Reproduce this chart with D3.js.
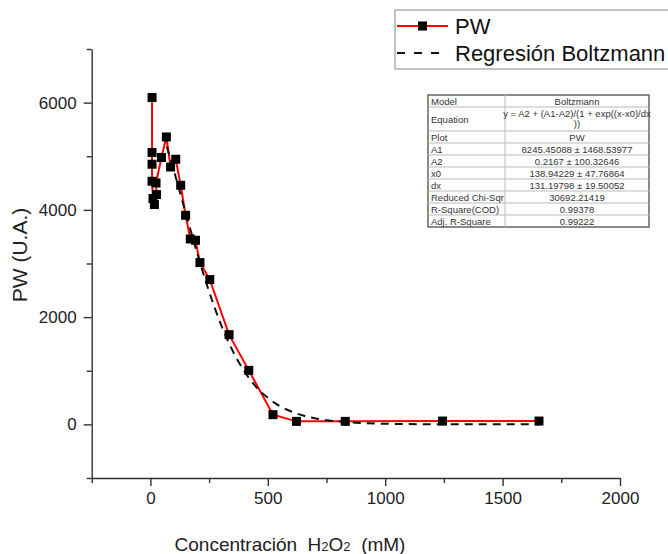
<!DOCTYPE html>
<html>
<head>
<meta charset="utf-8">
<script src="https://cdn.jsdelivr.net/npm/d3@7"></script>
<style>
  body { margin: 0; background: #fff; }
  svg { display: block; font-family: "Liberation Sans", Arial, sans-serif; }
  .axis path, .axis line { stroke: #333; stroke-width: 1.4; }
  .axis text { fill: #222; font-size: 17px; }
</style>
</head>
<body>
<div id="chart"></div>
<script>
// PW measurements (concentration in mM, PW in U.A.), in plotting order
const concX = [7, 7, 7, 7, 11, 17, 26, 24, 47, 68, 86, 108, 129, 150, 170, 192, 211, 253, 335, 419, 522, 622, 830, 1244, 1655];
const pwY = [6095, 5069, 4851, 4534, 4211, 4099, 4286, 4502, 4976, 5360, 4800, 4944, 4459, 3899, 3457, 3433, 3017, 2700, 1673, 1007, 181, 56, 56, 62, 62];

// Boltzmann regression curve
const fitX = [70, 100, 150, 200, 250, 300, 350, 400, 450, 500, 550, 600, 650, 700, 800, 900, 1000, 1200, 1400, 1655];
const fitY = [5180, 4730, 3950, 3180, 2475, 1870, 1375, 990, 700, 495, 345, 240, 165, 113, 53, 25, 12, 3, 1, 0];

const xTicks = [0, 500, 1000, 1500, 2000];
const xMinor = [-250, 250, 750, 1250, 1750];
const yTicks = [0, 2000, 4000, 6000];
const yMinor = [-1000, 1000, 3000, 5000, 7000];

const legendNames = ['PW', 'Regresión Boltzmann'];

const tableLabels = ['Model', 'Equation', 'Plot', 'A1', 'A2', 'x0', 'dx', 'Reduced Chi-Sqr', 'R-Square(COD)', 'Adj. R-Square'];
const tableValues = ['Boltzmann', 'y = A2 + (A1-A2)/(1 + exp((x-x0)/dx|))', 'PW', '8245.45088 ± 1468.53977', '0.2167 ± 100.32646',
  '138.94229 ± 47.76864', '131.19798 ± 19.50052', '30692.21419', '0.99378', '0.99222'];

const width = 668;
const height = 554;

const svg = d3.select('#chart').append('svg')
  .attr('width', width)
  .attr('height', height);

const xScale = d3.scaleLinear().domain([-250, 2000]).range([91.7, 620]);
const yScale = d3.scaleLinear().domain([-1000, 7000]).range([478, 49]);

// axes
svg.append('g')
  .attr('class', 'axis')
  .attr('transform', `translate(0, ${yScale(-1000)})`)
  .call(d3.axisBottom(xScale).tickValues(xMinor).tickSize(5).tickSizeOuter(0).tickFormat(''));
svg.append('g')
  .attr('class', 'axis')
  .attr('transform', `translate(0, ${yScale(-1000)})`)
  .call(d3.axisBottom(xScale).tickValues(xTicks).tickSize(8).tickSizeOuter(0).tickPadding(6).tickFormat(d3.format('d')))
  .call(g => g.select('.domain').remove());

svg.append('g')
  .attr('class', 'axis')
  .attr('transform', `translate(${xScale(-250)}, 0)`)
  .call(d3.axisLeft(yScale).tickValues(yMinor).tickSize(5).tickSizeOuter(0).tickFormat(''));
svg.append('g')
  .attr('class', 'axis')
  .attr('transform', `translate(${xScale(-250)}, 0)`)
  .call(d3.axisLeft(yScale).tickValues(yTicks).tickSize(8).tickSizeOuter(0).tickPadding(7).tickFormat(d3.format('d')))
  .call(g => g.select('.domain').remove());

// axis titles
svg.append('text')
  .attr('x', 290)
  .attr('y', 551)
  .attr('text-anchor', 'middle')
  .style('font-size', '19px')
  .style('fill', '#222')
  .html('Concentración&#160; H<tspan font-size="13px">2</tspan>O<tspan font-size="13px">2</tspan>&#160; (mM)');

svg.append('text')
  .attr('transform', 'translate(27, 255) rotate(-90)')
  .attr('text-anchor', 'middle')
  .style('font-size', '21px')
  .style('fill', '#222')
  .text('PW (U.A.)');

// data line
const points = concX.map((c, i) => [c, pwY[i]]);
const fitPoints = fitX.map((c, i) => [c, fitY[i]]);
const line = d3.line().x(d => xScale(d[0])).y(d => yScale(d[1]));

svg.append('path')
  .datum(points)
  .attr('d', line)
  .attr('fill', 'none')
  .attr('stroke', '#ff0000')
  .attr('stroke-width', 2);

svg.append('path')
  .datum(fitPoints)
  .attr('d', line.curve(d3.curveMonotoneX))
  .attr('fill', 'none')
  .attr('stroke', '#111')
  .attr('stroke-width', 2)
  .attr('stroke-dasharray', '8,6');

svg.append('g')
  .selectAll('rect')
  .data(points)
  .join('rect')
  .attr('x', d => xScale(d[0]) - 4.5)
  .attr('y', d => yScale(d[1]) - 4.5)
  .attr('width', 9)
  .attr('height', 9)
  .attr('fill', '#000');

// legend
const legend = svg.append('g');
legend.append('rect')
  .attr('x', 395).attr('y', 10)
  .attr('width', 290).attr('height', 59)
  .attr('fill', '#fff')
  .attr('stroke', '#888')
  .attr('stroke-width', 1);
legend.append('line')
  .attr('x1', 397).attr('x2', 448).attr('y1', 26).attr('y2', 26)
  .attr('stroke', '#ff0000').attr('stroke-width', 2);
legend.append('rect')
  .attr('x', 418).attr('y', 21.5).attr('width', 9).attr('height', 9)
  .attr('fill', '#000');
legend.append('line')
  .attr('x1', 397).attr('x2', 448).attr('y1', 53).attr('y2', 53)
  .attr('stroke', '#111').attr('stroke-width', 2)
  .attr('stroke-dasharray', '8,9');
legend.selectAll('text.leg')
  .data(legendNames)
  .join('text')
  .attr('class', 'leg')
  .attr('x', 455)
  .attr('y', (d, i) => 34 + i * 27)
  .style('font-size', '22px')
  .style('fill', '#111')
  .text(d => d);

// parameter table
const tbl = svg.append('g').style('font-size', '9.5px').style('fill', '#333');
const tx0 = 428, tx1 = 505, tx2 = 649, ty0 = 95, rowH = 12;
let yy = ty0;
const rows = tableLabels.map((lab, i) => {
  const h = i === 1 ? rowH * 2 : rowH;
  const r = { label: lab, value: tableValues[i], y: yy, h };
  yy += h;
  return r;
});
tbl.append('rect')
  .attr('x', tx0).attr('y', ty0)
  .attr('width', tx2 - tx0).attr('height', yy - ty0)
  .attr('fill', '#fff').attr('stroke', '#666').attr('stroke-width', 1.5);
tbl.selectAll('line.row')
  .data(rows.slice(1))
  .join('line')
  .attr('x1', tx0).attr('x2', tx2)
  .attr('y1', d => d.y).attr('y2', d => d.y)
  .attr('stroke', '#bbb').attr('stroke-width', 1);
tbl.append('line')
  .attr('x1', tx1).attr('x2', tx1).attr('y1', ty0).attr('y2', yy)
  .attr('stroke', '#bbb').attr('stroke-width', 1);
tbl.selectAll('text.lab')
  .data(rows)
  .join('text')
  .attr('class', 'lab')
  .attr('x', tx0 + 3)
  .attr('y', d => d.y + d.h / 2 + 3.5)
  .text(d => d.label);
rows.forEach(d => {
  const parts = d.value.split('|');
  parts.forEach((p, j) => {
    tbl.append('text')
      .attr('x', (tx1 + tx2) / 2)
      .attr('y', d.y + 9.5 + j * 10.5)
      .attr('text-anchor', 'middle')
      .text(p);
  });
});
</script>
</body>
</html>
